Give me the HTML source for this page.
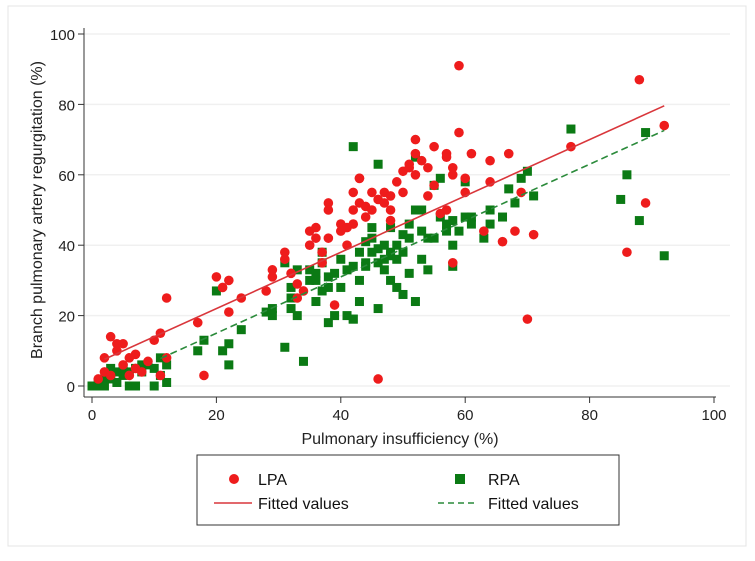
<!DOCTYPE html>
<html><head><meta charset="utf-8"><style>
body{margin:0;background:#fff;}
svg{display:block;font-family:"Liberation Sans",sans-serif;}
</style></head><body>
<svg id="chart" width="755" height="561">
<rect x="8" y="6" width="738" height="540" fill="#fff" stroke="#e4e4e4"/>
<g id="grid"></g>
<g id="marks"></g>
<g id="axes"></g>
<text x="400" y="444" font-size="16" text-anchor="middle" fill="#222">Pulmonary insufficiency (%)</text>
<text transform="translate(42,210) rotate(-90)" font-size="16" text-anchor="middle" fill="#222">Branch pulmonary artery regurgitation (%)</text>
<g>
<rect x="197" y="455" width="422" height="70" fill="#fff" stroke="#333"/>
<circle cx="234" cy="479" r="5" fill="#ee1c1c"/>
<text x="258" y="485" font-size="16" fill="#111">LPA</text>
<rect x="455" y="474" width="10" height="10" fill="#0b7a14"/>
<text x="488" y="485" font-size="16" fill="#111">RPA</text>
<line x1="214" y1="503" x2="252" y2="503" stroke="#d9363b" stroke-width="1.5"/>
<text x="258" y="509" font-size="16" fill="#111">Fitted values</text>
<line x1="438" y1="503" x2="476" y2="503" stroke="#2a8a3a" stroke-width="1.5" stroke-dasharray="6,4"/>
<text x="488" y="509" font-size="16" fill="#111">Fitted values</text>
</g>
</svg>
<script>
const xTicks=[0,20,40,60,80,100];
const yTicks=[0,20,40,60,80,100];
const lpaX=[1,2,2,3,3,4,4,5,5,6,6,7,7,8,9,10,11,11,12,12,17,18,20,21,22,22,24,28,29,29,31,31,32,33,33,34,35,35,36,36,37,37,38,38,38,39,40,40,41,41,42,42,42,43,43,43,44,44,45,45,46,46,47,47,48,48,48,49,50,50,51,51,52,52,52,53,54,54,55,55,56,57,57,57,58,58,58,59,59,60,60,61,63,64,64,66,67,68,69,70,71,77,86,88,89,92];
const lpaY=[2,4,8,14,3,10,12,12,6,8,3,9,5,4,7,13,15,3,25,8,18,3,31,28,30,21,25,27,33,31,36,38,32,29,25,27,40,44,45,42,35,38,52,50,42,23,46,44,40,45,50,55,46,59,59,52,51,48,55,50,53,2,55,52,54,50,47,58,61,55,63,62,66,60,70,64,54,62,68,57,49,50,65,66,35,60,62,72,91,55,59,66,44,58,64,41,66,44,55,19,43,68,38,87,52,74];
const rpaX=[0,1,1,2,2,3,3,3,4,4,5,5,6,6,7,7,8,8,9,10,10,11,11,12,12,17,18,20,21,22,22,24,28,29,29,31,31,32,32,32,33,33,34,35,35,36,36,36,37,37,37,38,38,38,39,39,40,40,41,41,42,42,42,42,43,43,43,44,44,44,45,45,45,46,46,46,46,47,47,47,48,48,48,48,49,49,49,50,50,50,51,51,51,52,52,52,53,53,53,54,54,55,55,56,56,57,57,58,58,58,59,60,60,61,61,63,64,64,66,67,68,69,70,71,77,85,86,88,89,92];
const rpaY=[0,1,0,2,0,3,5,2,4,1,3,5,0,4,0,5,6,4,6,5,0,3,8,6,1,10,13,27,10,12,6,16,21,20,22,11,35,25,28,22,33,20,7,30,33,32,24,30,27,38,35,31,28,18,32,20,36,28,33,20,34,19,19,68,30,38,24,34,41,35,42,45,38,39,22,63,35,36,40,33,37,38,30,45,28,36,40,43,26,38,46,42,32,50,24,65,50,44,36,42,33,57,42,59,48,44,46,47,40,34,44,48,58,48,46,42,50,46,48,56,52,59,61,54,73,53,60,47,72,37];
const fitLpa=[6,0.8], fitRpa=[-1,0.8];
const NS='http://www.w3.org/2000/svg';
const xs=v=>92+v*6.22, ys=v=>386-v*3.52;
function mk(t,a,p){const e=document.createElementNS(NS,t);for(const k in a)e.setAttribute(k,a[k]);p.appendChild(e);return e;}
const grid=document.getElementById('grid'),axes=document.getElementById('axes'),marks=document.getElementById('marks');
yTicks.forEach(t=>{
 const g=mk('line',{x1:84,x2:730,y1:ys(t),y2:ys(t),stroke:'#f0f0f0','stroke-width':1.5},grid);
 
 
 const tk=mk('line',{x1:78,x2:84,y1:ys(t),y2:ys(t),stroke:'#333'},axes);
 
 
 const l=mk('text',{x:75,y:ys(t)+6,'font-size':15,'text-anchor':'end',fill:'#222'},axes);l.textContent=t;
 
 
});
xTicks.forEach(t=>{
 const tk=mk('line',{x1:xs(t),x2:xs(t),y1:397,y2:403,stroke:'#333'},axes);
 
 
 const l=mk('text',{x:xs(t),y:420,'font-size':15,'text-anchor':'middle',fill:'#222'},axes);l.textContent=t;
 
 
});
const ya=mk('line',{x1:84,x2:84,y1:28,y2:397,stroke:'#333'},axes);


const xa=mk('line',{x1:84,x2:716,y1:397,y2:397,stroke:'#333'},axes);


rpaX.forEach((x,i)=>{
 const r=mk('rect',{x:xs(x)-4.5,y:ys(rpaY[i])-4.5,width:9,height:9,fill:'#0b7a14'},marks);
 
 
});
lpaX.forEach((x,i)=>{
 const c=mk('circle',{cx:xs(x),cy:ys(lpaY[i]),r:4.8,fill:'#ee1c1c'},marks);
 
 
});
const l1=mk('line',{x1:xs(2),y1:ys(fitLpa[0]+fitLpa[1]*2),x2:xs(92),y2:ys(fitLpa[0]+fitLpa[1]*92),stroke:'#d9363b','stroke-width':1.6},marks);


const l2=mk('line',{x1:xs(11),y1:ys(fitRpa[0]+fitRpa[1]*11),x2:xs(92),y2:ys(fitRpa[0]+fitRpa[1]*92),stroke:'#2a8a3a','stroke-width':1.6,'stroke-dasharray':'7,4'},marks);


</script>
</body></html>
